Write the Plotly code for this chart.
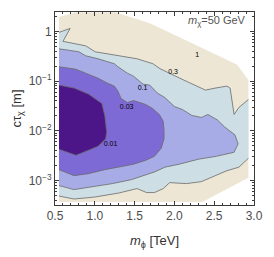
import numpy as np
import plotly.graph_objects as go

# ---- data: m_phi [TeV] and log10(c tau_chi [m]) along each contour ----
# outer edge of the filled (value < 1) region
outer_m = [0.55, 2.35, 2.93, 2.93, 2.79, 1.70, 1.26, 0.76, 0.55]
outer_L = [-3.43, -3.43, -2.94, -0.98, -0.67, 0.16, 0.385, 0.385, 0.29]

# 0.3 contour (two branches)
c03_upper_m = [0.55, 0.69, 0.60, 0.885, 1.005, 1.29, 1.53, 1.73, 1.82, 2.12, 2.29, 2.39, 2.51, 2.66, 2.70, 2.75, 2.81, 2.93]
c03_upper_L = [-0.02, 0.06, -0.20, -0.29, -0.41, -0.49, -0.55, -0.65, -0.75, -0.98, -1.10, -1.18, -1.14, -1.10, -1.14, -1.67, -1.53, -1.37]
c03_lower_m = [2.93, 2.81, 2.66, 2.51, 2.34, 2.15, 1.94, 1.86, 1.75, 1.65, 1.53, 1.30, 1.00, 0.74, 0.55]
c03_lower_L = [-2.55, -2.73, -2.80, -2.90, -3.02, -3.06, -3.04, -3.16, -3.24, -3.24, -3.16, -3.25, -3.33, -3.37, -3.31]

# 0.1 contour
c01_m = [0.55, 0.69, 0.80, 0.885, 1.04, 1.245, 1.29, 1.41, 1.486, 1.606, 1.69, 1.786, 1.88, 2.00, 2.10, 2.22, 2.34, 2.42,
         2.54, 2.63, 2.76, 2.80, 2.75, 2.53, 2.30, 2.06, 1.88, 1.76, 1.64, 1.46, 1.22, 0.98, 0.74, 0.55]
c01_L = [-0.35, -0.39, -0.41, -0.49, -0.55, -0.65, -0.71, -0.84, -0.90, -1.06, -1.08, -1.24, -1.33, -1.51, -1.57, -1.69, -1.73, -1.67,
         -1.78, -1.92, -2.08, -2.26, -2.43, -2.51, -2.57, -2.67, -2.73, -2.82, -2.88, -2.98, -3.06, -3.12, -3.18, -3.10]

# 0.03 contour
c003_m = [0.55, 0.76, 0.885, 1.04, 1.16, 1.245, 1.29, 1.33, 1.41, 1.486, 1.64, 1.726, 1.81, 1.858, 1.87, 1.87, 1.834, 1.75,
          1.642, 1.486, 1.293, 1.125, 0.92, 0.74, 0.55]
c003_L = [-0.71, -0.76, -0.84, -0.94, -1.04, -1.10, -1.20, -1.35, -1.43, -1.39, -1.47, -1.55, -1.67, -1.80, -1.98, -2.16, -2.35, -2.51,
          -2.59, -2.67, -2.73, -2.78, -2.86, -2.90, -2.78]

# 0.01 contour
c001_m = [0.55, 0.74, 0.92, 1.089, 1.125, 1.149, 1.137, 1.041, 0.92, 0.764, 0.62, 0.55]
c001_L = [-1.08, -1.14, -1.26, -1.45, -1.69, -2.02, -2.16, -2.31, -2.39, -2.49, -2.41, -2.37]

# contour labels
label_text = ["1", "0.3", "0.1", "0.03", "0.01"]
label_m = [2.285, 1.984, 1.60, 1.40, 1.197]
label_L = [-0.484, -0.827, -1.137, -1.53, -2.265]

x_tick_vals = [0.5, 1.0, 1.5, 2.0, 2.5, 3.0]
x_tick_text = ["0.5", "1.0", "1.5", "2.0", "2.5", "3.0"]
y_tick_vals = [1e-3, 1e-2, 1e-1, 1]
y_tick_text = ["10<sup>\u22123</sup>", "10<sup>\u22122</sup>", "10<sup>\u22121</sup>", "1"]

# ---- styles ----
col_beige = "rgb(237,230,213)"
col_lblue = "rgb(205,222,228)"
col_lav = "rgb(168,172,230)"
col_mid = "rgb(126,106,212)"
col_dark = "rgb(76,22,136)"
line_col = "rgb(105,105,105)"


def ct(L):
    return list(10.0 ** np.array(L))


fig = go.Figure()


def add_fill(m, L, color):
    fig.add_trace(go.Scatter(x=m, y=ct(L), mode="lines", fill="toself", fillcolor=color,
                             line=dict(width=0, color=color), hoverinfo="skip", showlegend=False))


def add_line(m, L):
    fig.add_trace(go.Scatter(x=m, y=ct(L), mode="lines", line=dict(width=0.8, color=line_col),
                             hoverinfo="skip", showlegend=False))


add_fill(outer_m, outer_L, col_beige)
add_fill(c03_upper_m + c03_lower_m, c03_upper_L + c03_lower_L, col_lblue)
add_fill(c01_m, c01_L, col_lav)
add_fill(c003_m, c003_L, col_mid)
add_fill(c001_m, c001_L, col_dark)

add_line(c03_upper_m, c03_upper_L)
add_line(c03_lower_m, c03_lower_L)
add_line(c01_m, c01_L)
add_line(c003_m, c003_L)
add_line(c001_m, c001_L)

fig.add_trace(go.Scatter(x=label_m, y=ct(label_L), mode="text", text=label_text,
                         textfont=dict(size=7, color="black", family="Liberation Sans"),
                         hoverinfo="skip", showlegend=False))

frame_col = "#3a3a3a"
tick_font = dict(family="Liberation Sans", size=12, color="#4d4d4d")

fig.update_xaxes(range=[0.5, 3.0], tickvals=x_tick_vals, ticktext=x_tick_text,
                 ticks="inside", ticklen=4, tickcolor=frame_col, showline=True, linecolor=frame_col, linewidth=1,
                 mirror="allticks", showgrid=False, zeroline=False, tickfont=tick_font,
                 minor=dict(ticks="inside", ticklen=2, tickcolor=frame_col, dtick=0.1, showgrid=False),
                 title=dict(text="<i>m</i><sub>\u03d5</sub> [TeV]", standoff=13,
                            font=dict(family="Liberation Sans", size=13, color="#333")))
minor_y = [k * 10.0 ** e for e in range(-4, 1) for k in range(2, 10)]
fig.update_yaxes(type="log", range=[-3.49, 0.39], tickvals=y_tick_vals, ticktext=y_tick_text,
                 ticks="inside", ticklen=4, tickcolor=frame_col, showline=True, linecolor=frame_col, linewidth=1,
                 mirror="allticks", showgrid=False, zeroline=False, tickfont=tick_font,
                 minor=dict(ticks="inside", ticklen=2, tickcolor=frame_col, tickvals=minor_y, showgrid=False),
                 title=dict(text="c\u03c4<sub>\u03c7</sub> [m]", standoff=4,
                            font=dict(family="Liberation Sans", size=13, color="#333")))

fig.add_annotation(xref="paper", yref="paper", x=0.968, y=0.955, xanchor="right", yanchor="middle",
                   text="<i>m</i><sub>\u03c7</sub>=50 GeV", showarrow=False,
                   font=dict(family="Liberation Sans", size=11, color="#555"))

fig.update_layout(width=274, height=257, margin=dict(l=55, r=11, t=12, b=47),
                  plot_bgcolor="white", paper_bgcolor="white")

fig.write_html("out.html", config={"displayModeBar": False, "staticPlot": True},
               post_script="document.body.style.margin='0px';document.body.style.overflow='hidden';")
